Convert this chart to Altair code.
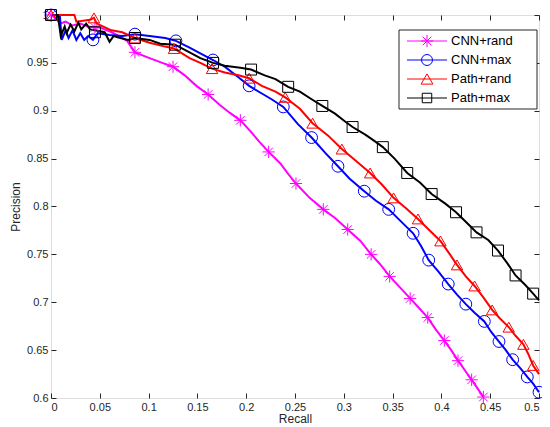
import altair as alt
import pandas as pd

series = ["CNN+rand", "CNN+max", "Path+rand", "Path+max"]
colors = ["#ff00ff", "#0000ff", "#ff0000", "#000000"]

# (recall, precision) points along each curve
cnn_rand_line = [(0, 1.000), (0.005, 0.997), (0.009, 0.991), (0.015, 0.993), (0.022, 0.989), (0.030, 0.991),
                 (0.038, 0.988), (0.045, 0.987), (0.050, 0.987), (0.060, 0.983), (0.068, 0.979), (0.078, 0.973),
                 (0.086, 0.961), (0.101, 0.955), (0.114, 0.950), (0.125, 0.946), (0.137, 0.937), (0.149, 0.926),
                 (0.161, 0.917), (0.173, 0.906), (0.183, 0.898), (0.194, 0.890), (0.204, 0.879), (0.214, 0.867),
                 (0.223, 0.857), (0.235, 0.845), (0.243, 0.834), (0.251, 0.824), (0.265, 0.809), (0.279, 0.797),
                 (0.291, 0.788), (0.304, 0.776), (0.317, 0.764), (0.328, 0.750), (0.337, 0.740), (0.347, 0.727),
                 (0.358, 0.715), (0.368, 0.704), (0.378, 0.693), (0.386, 0.684), (0.394, 0.672), (0.403, 0.660),
                 (0.410, 0.650), (0.417, 0.639), (0.424, 0.629), (0.431, 0.619), (0.437, 0.610), (0.443, 0.601)]
cnn_max_line = [(0, 1.000), (0.009, 1.000), (0.011, 0.974), (0.015, 0.984), (0.018, 0.976), (0.022, 0.984),
                (0.026, 0.974), (0.030, 0.981), (0.034, 0.974), (0.038, 0.978), (0.043, 0.974), (0.048, 0.981),
                (0.060, 0.979), (0.073, 0.978), (0.086, 0.980), (0.101, 0.978), (0.117, 0.976), (0.128, 0.973),
                (0.142, 0.966), (0.153, 0.960), (0.166, 0.953), (0.178, 0.946), (0.192, 0.935), (0.203, 0.926),
                (0.216, 0.918), (0.226, 0.912), (0.238, 0.904), (0.253, 0.886), (0.267, 0.872), (0.281, 0.856),
                (0.294, 0.842), (0.306, 0.829), (0.321, 0.816), (0.333, 0.806), (0.346, 0.797), (0.358, 0.785),
                (0.371, 0.772), (0.379, 0.759), (0.387, 0.744), (0.397, 0.732), (0.407, 0.719), (0.416, 0.708),
                (0.425, 0.698), (0.434, 0.689), (0.444, 0.680), (0.451, 0.669), (0.459, 0.659), (0.466, 0.650),
                (0.473, 0.640), (0.481, 0.631), (0.488, 0.622), (0.494, 0.615), (0.500, 0.606)]
path_rand_line = [(0, 1.000), (0.024, 1.000), (0.026, 0.993), (0.040, 0.995), (0.044, 0.997), (0.047, 0.991),
                  (0.062, 0.984), (0.073, 0.982), (0.086, 0.976), (0.101, 0.971), (0.117, 0.967), (0.126, 0.965),
                  (0.142, 0.955), (0.153, 0.950), (0.165, 0.944), (0.178, 0.940), (0.192, 0.937), (0.203, 0.934),
                  (0.216, 0.926), (0.230, 0.920), (0.240, 0.914), (0.255, 0.902), (0.268, 0.887), (0.284, 0.874),
                  (0.298, 0.860), (0.312, 0.848), (0.327, 0.835), (0.339, 0.823), (0.351, 0.809), (0.364, 0.798),
                  (0.376, 0.787), (0.388, 0.775), (0.399, 0.764), (0.408, 0.751), (0.416, 0.739), (0.425, 0.727),
                  (0.434, 0.717), (0.443, 0.705), (0.452, 0.692), (0.460, 0.683), (0.469, 0.674), (0.476, 0.665),
                  (0.484, 0.656), (0.489, 0.646), (0.494, 0.634), (0.500, 0.625)]
path_max_line = [(0, 1.000), (0.007, 1.000), (0.010, 0.978), (0.014, 0.988), (0.016, 0.981), (0.020, 0.990),
                 (0.024, 0.983), (0.028, 0.992), (0.031, 0.985), (0.036, 0.991), (0.040, 0.985), (0.045, 0.984),
                 (0.055, 0.982), (0.060, 0.972), (0.064, 0.978), (0.071, 0.976), (0.079, 0.974), (0.086, 0.976),
                 (0.101, 0.974), (0.112, 0.970), (0.127, 0.969), (0.142, 0.961), (0.153, 0.955), (0.166, 0.950),
                 (0.178, 0.947), (0.194, 0.945), (0.205, 0.943), (0.219, 0.937), (0.230, 0.933), (0.243, 0.925),
                 (0.255, 0.920), (0.267, 0.912), (0.278, 0.905), (0.291, 0.897), (0.301, 0.889), (0.309, 0.883),
                 (0.322, 0.875), (0.332, 0.868), (0.340, 0.862), (0.352, 0.850), (0.365, 0.835), (0.378, 0.825),
                 (0.390, 0.813), (0.404, 0.803), (0.415, 0.794), (0.426, 0.783), (0.436, 0.773), (0.448, 0.765),
                 (0.458, 0.754), (0.468, 0.740), (0.476, 0.728), (0.486, 0.718), (0.494, 0.709), (0.500, 0.702)]

# marker positions
cnn_rand_marks = [(0, 1.0), (0.045, 0.987), (0.086, 0.961), (0.125, 0.946), (0.161, 0.917), (0.194, 0.890),
                  (0.223, 0.857), (0.251, 0.824), (0.279, 0.797), (0.304, 0.776), (0.328, 0.750), (0.347, 0.727),
                  (0.368, 0.704), (0.386, 0.684), (0.403, 0.660), (0.417, 0.639), (0.431, 0.619), (0.443, 0.601)]
cnn_max_marks = [(0, 1.0), (0.043, 0.974), (0.086, 0.980), (0.128, 0.973), (0.166, 0.953), (0.203, 0.926),
                 (0.238, 0.904), (0.267, 0.872), (0.294, 0.842), (0.321, 0.816), (0.346, 0.797), (0.371, 0.772),
                 (0.387, 0.744), (0.407, 0.719), (0.425, 0.698), (0.444, 0.680), (0.459, 0.659), (0.473, 0.640),
                 (0.488, 0.622), (0.500, 0.606)]
path_rand_marks = [(0, 1.0), (0.044, 0.997), (0.086, 0.976), (0.126, 0.965), (0.165, 0.944), (0.203, 0.934),
                   (0.240, 0.914), (0.268, 0.887), (0.298, 0.860), (0.327, 0.835), (0.351, 0.809), (0.376, 0.787),
                   (0.399, 0.764), (0.416, 0.739), (0.434, 0.717), (0.452, 0.692), (0.469, 0.674), (0.484, 0.656),
                   (0.494, 0.634)]
path_max_marks = [(0, 1.0), (0.045, 0.982), (0.086, 0.976), (0.127, 0.969), (0.166, 0.950), (0.205, 0.943),
                  (0.243, 0.925), (0.278, 0.905), (0.309, 0.883), (0.340, 0.862), (0.365, 0.835), (0.390, 0.813),
                  (0.415, 0.794), (0.436, 0.773), (0.458, 0.754), (0.476, 0.728), (0.494, 0.709)]

x_ticks = [0, 0.05, 0.1, 0.15, 0.2, 0.25, 0.3, 0.35, 0.4, 0.45, 0.5]
y_ticks = [0.6, 0.65, 0.7, 0.75, 0.8, 0.85, 0.9, 0.95, 1.0]

asterisk = "M -1 0 L 1 0 M 0 -1 L 0 1 M -0.7 -0.7 L 0.7 0.7 M -0.7 0.7 L 0.7 -0.7"
shapes = [asterisk, "circle", "triangle-up", "square"]
sizes = [150, 120, 140, 90]

lines_all = [cnn_rand_line, cnn_max_line, path_rand_line, path_max_line]
marks_all = [cnn_rand_marks, cnn_max_marks, path_rand_marks, path_max_marks]

line_rows, mark_rows = [], []
for s, pts in zip(series, lines_all):
    for i, (x, y) in enumerate(pts):
        line_rows.append({"series": s, "x": x, "y": y, "i": i})
for s, pts in zip(series, marks_all):
    for x, y in pts:
        mark_rows.append({"series": s, "x": x, "y": y})
line_df = pd.DataFrame(line_rows)
mark_df = pd.DataFrame(mark_rows)

FONT = "Liberation Sans"
AX = "#262626"
xs = alt.Scale(domain=[0, 0.5], nice=False, zero=False)
ys = alt.Scale(domain=[0.6, 1.0], nice=False, zero=False)
cscale = alt.Scale(domain=series, range=colors)

common_axis = dict(tickSize=5, offset=-5, domain=False, grid=False, tickColor=AX,
                   labelColor=AX, labelFont=FONT, labelFontSize=11, titleFont=FONT,
                   titleFontSize=12, titleFontWeight="normal", titleColor=AX)

lines = alt.Chart(line_df).mark_line(strokeWidth=2).encode(
    x=alt.X("x:Q", scale=xs, axis=alt.Axis(orient="bottom", values=x_ticks, format="~g",
                                           title="Recall", labelPadding=3, titlePadding=1, **common_axis)),
    y=alt.Y("y:Q", scale=ys, axis=alt.Axis(orient="left", values=y_ticks, format="~g",
                                           title="Precision", labelPadding=3, titlePadding=4, **common_axis)),
    color=alt.Color("series:N", scale=cscale, legend=None),
    order="i:Q",
)

points = alt.Chart(mark_df).mark_point(filled=False, strokeWidth=1, opacity=1).encode(
    x=alt.X("x:Q", scale=xs, axis=alt.Axis(orient="top", values=x_ticks, labels=False, title=None, **common_axis)),
    y=alt.Y("y:Q", scale=ys, axis=alt.Axis(orient="right", values=y_ticks, labels=False, title=None, **common_axis)),
    color=alt.Color("series:N", scale=cscale, legend=None),
    shape=alt.Shape("series:N", scale=alt.Scale(domain=series, range=shapes), legend=None),
    size=alt.Size("series:N", scale=alt.Scale(domain=series, range=sizes), legend=None),
)

# legend
box = alt.Chart(alt.Data(values=[{}])).mark_rect(fill="white", stroke=AX, strokeWidth=1).encode(
    x=alt.value(348), x2=alt.value(486), y=alt.value(15), y2=alt.value(94))
legend_layers = [box]
row_y = [26, 45, 64, 83]
for s, c, sh, sz, ry in zip(series, colors, shapes, sizes, row_y):
    d = alt.Data(values=[{"series": s}])
    legend_layers.append(alt.Chart(d).mark_rule(color=c, strokeWidth=1).encode(
        x=alt.value(356), x2=alt.value(396), y=alt.value(ry)))
    legend_layers.append(alt.Chart(d).mark_point(shape=sh, filled=False, color=c, size=sz, strokeWidth=1,
                                                 opacity=1).encode(x=alt.value(376), y=alt.value(ry)))
    legend_layers.append(alt.Chart(d).mark_text(align="left", baseline="middle", font=FONT, fontSize=13,
                                                color="#000000").encode(
        x=alt.value(400), y=alt.value(ry), text="series:N"))

chart = alt.layer(lines, points, *legend_layers).resolve_axis(
    x="independent", y="independent"
).properties(
    width=488, height=383,
    autosize=alt.AutoSizeParams(type="none"),
    padding={"left": 43, "top": 7, "right": 3, "bottom": 26},
).configure_view(stroke=AX, strokeWidth=1).configure(background="white")

chart.save("out.html", embed_options={"renderer": "svg", "actions": False})
